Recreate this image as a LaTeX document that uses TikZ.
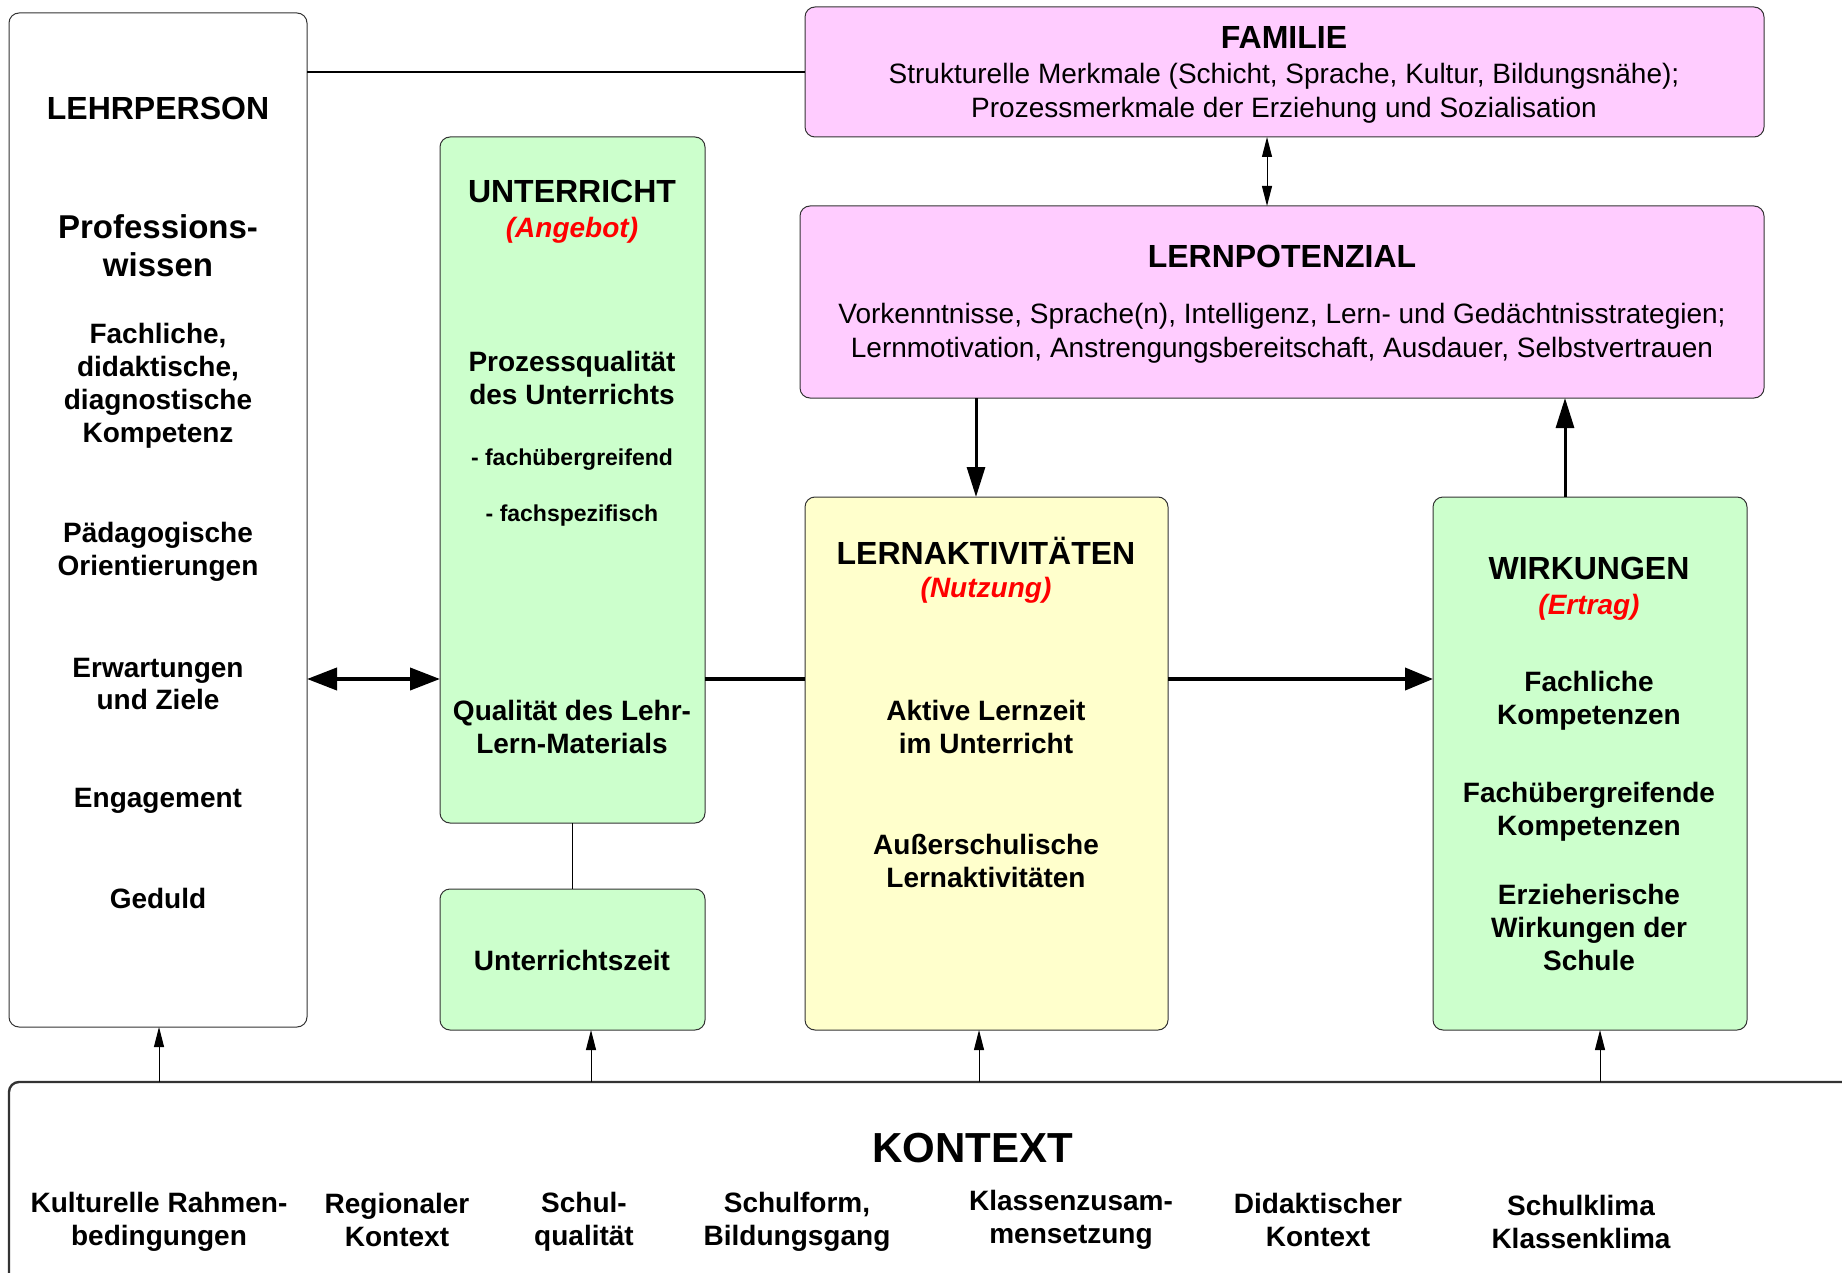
\documentclass[tikz,border=0pt]{standalone}
\usepackage{fontspec}
\setmainfont{Liberation Sans}
\usetikzlibrary{arrows.meta}
\definecolor{gruen}{HTML}{CCFFCC}
\definecolor{rosa}{HTML}{FFCCFF}
\definecolor{gelb}{HTML}{FFFFCC}
\begin{document}
\begin{tikzpicture}[x=0.5pt,y=-0.5pt,
  box/.style={draw=black!80,line width=0.5pt,rounded corners=5pt,inner sep=0pt,outer sep=0pt},
  ttl/.style={font=\bfseries\fontsize{16}{19}\selectfont},
  lbl/.style={align=center,font=\bfseries\fontsize{14}{16.5}\selectfont},
  txt/.style={align=center,font=\fontsize{14}{17}\selectfont},
  klein/.style={font=\bfseries\fontsize{11.5}{14}\selectfont},
  rot/.style={text=red,font=\bfseries\itshape\fontsize{14}{16.5}\selectfont},
  thin arrow/.style={line width=0.5pt,-{Triangle[length=10pt,width=5pt]}},
  thick arrow/.style={line width=1.5pt,-{Triangle[length=15pt,width=9pt]}}]
  \clip (0,0) rectangle (1842,1273);
  % boxes
  \node[box,minimum width=149pt,minimum height=507pt] (lehr) at (158,520) {};
  \node[box,fill=rosa,minimum width=479.5pt,minimum height=65pt] (fam) at (1284.5,72) {};
  \node[box,fill=rosa,minimum width=482pt,minimum height=96pt] (pot) at (1282,302) {};
  \node[box,fill=gruen,minimum width=132.5pt,minimum height=343pt] (unt) at (572.5,480) {};
  \node[box,fill=gruen,minimum width=132.5pt,minimum height=70.5pt] (zeit) at (572.5,959.5) {};
  \node[box,fill=gelb,minimum width=181.5pt,minimum height=266.5pt] (akt) at (986.5,763.5) {};
  \node[box,fill=gruen,minimum width=157pt,minimum height=266.5pt] (wirk) at (1590,763.5) {};
  \node[box,line width=1.2pt,minimum width=926.5pt,minimum height=104pt] (kon) at (935.5,1186) {};
  \coordinate (mid) at (0,679);

  % Lehrperson
  \node[ttl] (lehrT) at (158,108) {LEHRPERSON};
  \node[lbl,font=\bfseries\fontsize{16.5}{19}\selectfont] (profw) at (158,246) {Professions-\\wissen};
  \node[lbl] (komp) at (158,386) {Fachliche,\\didaktische,\\diagnostische\\Kompetenz};
  \node[lbl] (paed) at (158,552) {Pädagogische\\Orientierungen};
  \node[lbl] (erw) at (158,684) {Erwartungen\\und Ziele};
  \node[lbl] (eng) at (158,801) {Engagement};
  \node[lbl] (ged) at (158,898) {Geduld};

  % Unterricht
  \node[ttl] (untT) at (572,191) {UNTERRICHT};
  \node[rot] (angebot) at (572,230) {(Angebot)};
  \node[lbl] (prozq) at (572,378) {Prozessqualität\\des Unterrichts};
  \node[klein] (fue) at (572,460) {- fachübergreifend};
  \node[klein] (fsp) at (572,516) {- fachspezifisch};
  \node[lbl] (matq) at (572,727) {Qualität des Lehr-\\Lern-Materials};
  \node[lbl] (zeitT) at (572,960) {Unterrichtszeit};

  % Familie, Lernpotenzial
  \node[ttl] (famT) at (1284,37) {FAMILIE};
  \node[txt] (famM) at (1284,93) {Strukturelle Merkmale (Schicht, Sprache, Kultur, Bildungsnähe);\\Prozessmerkmale der Erziehung und Sozialisation};
  \node[ttl] (potT) at (1282,256) {LERNPOTENZIAL};
  \node[txt] (potM) at (1282,333) {Vorkenntnisse, Sprache(n), Intelligenz, Lern- und Gedächtnisstrategien;\\Lernmotivation, Anstrengungsbereitschaft, Ausdauer, Selbstvertrauen};

  % Lernaktivitaeten
  \node[ttl] (aktT) at (986,551) {LERNAKTIVITÄTEN};
  \node[rot] (nutzung) at (986,590) {(Nutzung)};
  \node[lbl] (aktiv) at (986,727) {Aktive Lernzeit\\im Unterricht};
  \node[lbl] (ausser) at (986,861) {Außerschulische\\Lernaktivitäten};

  % Wirkungen
  \node[ttl] (wirkT) at (1589,568) {WIRKUNGEN};
  \node[rot] (ertrag) at (1589,607) {(Ertrag)};
  \node[lbl] (fachk) at (1589,701) {Fachliche\\Kompetenzen};
  \node[lbl] (uebk) at (1589,812) {Fachübergreifende\\Kompetenzen};
  \node[lbl] (erz) at (1589,927) {Erzieherische\\Wirkungen der\\Schule};

  % Kontext
  \node[font=\bfseries\fontsize{21}{25}\selectfont] (konT) at (973,1148) {KONTEXT};
  \node[lbl] (k1) at (159,1222) {Kulturelle Rahmen-\\bedingungen};
  \node[lbl] (k2) at (397,1220) {Regionaler\\Kontext};
  \node[lbl] (k3) at (584,1222) {Schul-\\qualität};
  \node[lbl] (k4) at (797,1222) {Schulform,\\Bildungsgang};
  \node[lbl] (k5) at (1071,1220) {Klassenzusam-\\mensetzung};
  \node[lbl] (k6) at (1318,1220) {Didaktischer\\Kontext};
  \node[lbl] (k7) at (1581,1222) {Schulklima\\Klassenklima};

  % connections
  \draw[line width=0.6pt] (lehr.east |- fam) -- (fam.west);
  \draw[line width=0.5pt,{Triangle[length=10pt,width=5pt]}-{Triangle[length=10pt,width=5pt]}]
    (fam.south -| 1267,0) -- (pot.north -| 1267,0);
  \draw[thick arrow] (pot.south -| 976,0) -- (akt.north -| 976,0);
  \draw[thick arrow] (wirk.north -| 1565,0) -- (pot.south -| 1565,0);
  \draw[line width=2pt,{Triangle[length=15pt,width=11pt]}-{Triangle[length=15pt,width=11pt]}]
    (lehr.east |- mid) -- (unt.west |- mid);
  \draw[line width=2pt] (unt.east |- mid) -- (akt.west |- mid);
  \draw[line width=2pt,-{Triangle[length=14pt,width=11pt]}] (akt.east |- mid) -- (wirk.west |- mid);
  \draw[line width=0.5pt] (unt.south) -- (zeit.north);
  \draw[thin arrow] (kon.north -| 159,0) -- (lehr.south -| 159,0);
  \draw[thin arrow] (kon.north -| 591,0) -- (zeit.south -| 591,0);
  \draw[thin arrow] (kon.north -| 979,0) -- (akt.south -| 979,0);
  \draw[thin arrow] (kon.north -| 1600,0) -- (wirk.south -| 1600,0);
\end{tikzpicture}
\end{document}
